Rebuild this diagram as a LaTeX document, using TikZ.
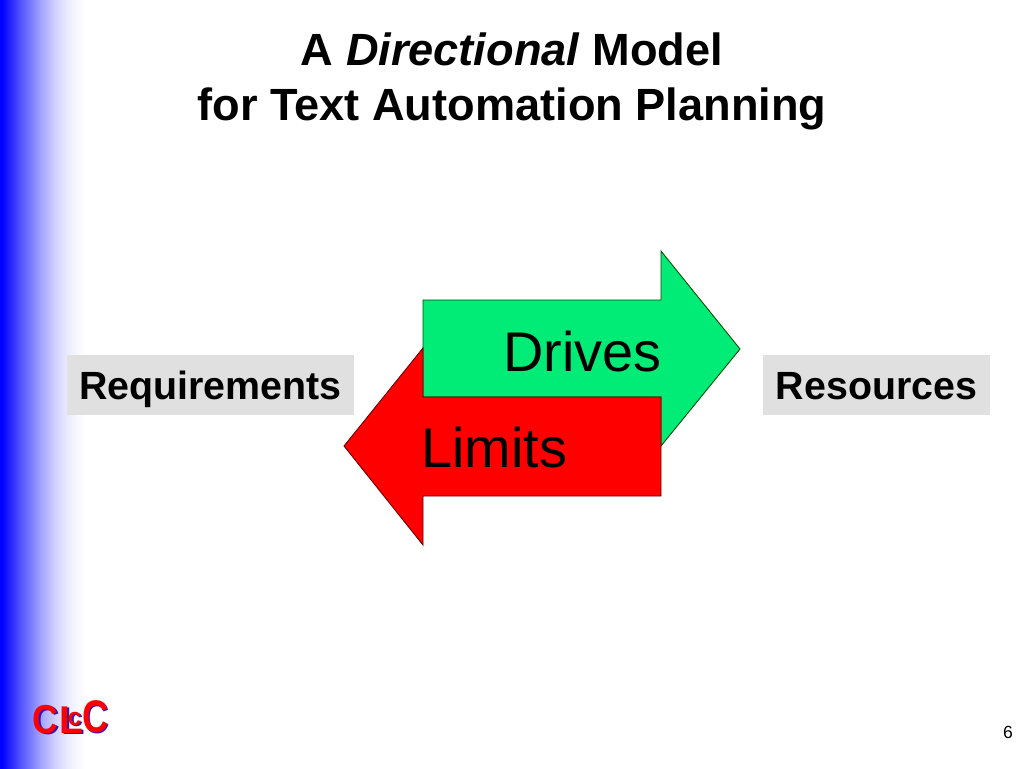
\documentclass[tikz,border=0pt]{standalone}
\usepackage{fontspec}
\setmainfont{Liberation Sans}
\definecolor{drivegreen}{RGB}{0,236,118}
\definecolor{boxgray}{RGB}{224,224,224}
\definecolor{logoblue}{RGB}{50,20,190}
\pgfdeclarehorizontalshading{barfade}{100bp}{
  color(0bp)=(blue); color(26bp)=(blue);
  color(35bp)=(blue!68!white); color(45bp)=(blue!37!white);
  color(52.5bp)=(blue!18!white); color(60bp)=(blue!6!white);
  color(67.5bp)=(white); color(100bp)=(white)}
\tikzset{
  title/.style={font=\fontsize{25.7}{31.2}\selectfont\bfseries,inner sep=0pt,align=center},
  label/.style={fill=boxgray,font=\fontsize{22.4}{24}\selectfont\bfseries,inner sep=0pt,minimum height=60*0.02cm,text height=19pt,text depth=2.4pt},
  big/.style={font=\fontsize{31.8}{36}\selectfont,inner sep=0pt,anchor=base west},
  arrowshape/.style={draw=black!70!green,line width=0.5pt,line join=miter}
}
\def\logo#1#2#3#4#5{\node [text=logoblue,font=\fontsize{#3}{#3}\selectfont\bfseries,inner sep=0pt,anchor=base west] at (#1+1.5,#2+1.5) {\scalebox{#4}[1]{#5}};
\node [text=red,font=\fontsize{#3}{#3}\selectfont\bfseries,inner sep=0pt,anchor=base west] at (#1,#2) {\scalebox{#4}[1]{#5}};}
\begin{document}
\begin{tikzpicture}[x=0.02cm,y=-0.02cm]
\useasboundingbox (0,0) rectangle (1024,768);
\fill [white] (0,0) rectangle (1024,768);
\shade [shading=barfade] (0,0) rectangle (100,768);
\node [title] (heading) at (512,81.5) {A \textit{Directional} Model\\for Text Automation Planning};
% arrows
\draw [arrowshape,fill=drivegreen] (423,300) -- (661,300) -- (661,251) -- (740,349) -- (661,446) -- (661,397) -- (423,397) -- cycle;
\draw [arrowshape,fill=red,draw=black!60!red] (661,397) -- (423,397) -- (423,348) -- (344,446) -- (423,545) -- (423,496) -- (661,496) -- cycle;
\node [big] (drives) at (503,371) {Drives};
\node [big] (limits) at (421,467) {Limits};
\node [label,minimum width=287*0.02cm] (requirements) at (210.5,385) {Requirements};
\node [label,minimum width=227*0.02cm] (resources) at (876.5,385) {Resources};
\logo{32.5}{733}{23}{0.88}{C}
\logo{59.5}{733}{22}{1}{L}
\logo{67.5}{725}{14}{1}{c}
\logo{82}{732}{26}{0.8}{C}
\node [font=\fontsize{10}{12}\selectfont,inner sep=0pt] (pagenum) at (1008,732) {6};
\end{tikzpicture}
\end{document}
